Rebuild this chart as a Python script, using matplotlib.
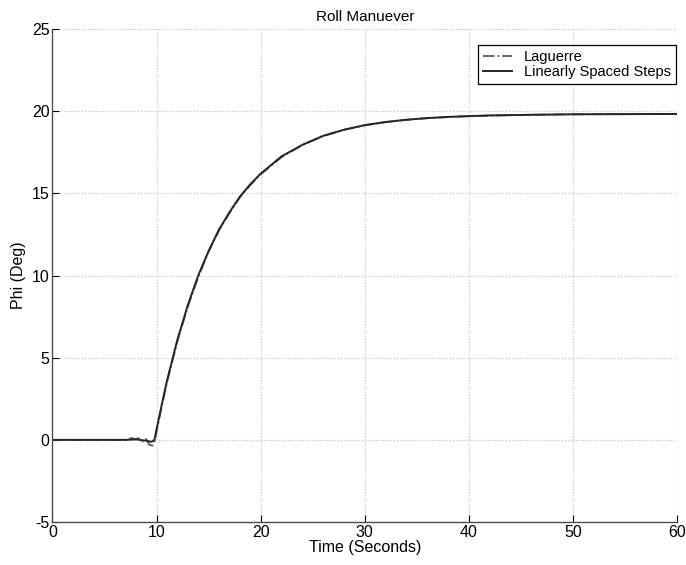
import matplotlib

matplotlib.use("Agg")
import matplotlib.pyplot as plt

# Linearly spaced steps response (deg) vs time (s)
time_steps = [0, 5, 7, 8, 9, 9.5, 9.8, 10, 10.5, 11, 11.6, 12, 13, 14, 15,
              16, 17, 18, 19, 20, 22, 24, 26, 28, 30, 32, 34, 36, 38, 40,
              42, 45, 50, 55, 60]
phi_steps = [0, 0, 0, 0.03, -0.05, -0.12, 0.0, 0.65, 2.15, 3.6, 5.1, 6.1,
             8.2, 10.0, 11.5, 12.8, 13.85, 14.8, 15.55, 16.2, 17.25, 17.95,
             18.5, 18.87, 19.15, 19.34, 19.48, 19.58, 19.65, 19.7, 19.74,
             19.77, 19.81, 19.82, 19.83]

# Laguerre response (deg) vs time (s)
time_lag = [0, 5, 7.3, 7.6, 7.9, 8.3, 8.7, 9.0, 9.3, 9.6, 9.8, 10, 10.5, 11,
            11.6, 12, 13, 14, 15, 16, 17, 18, 19, 20, 22, 24, 26, 28, 30, 32,
            34, 36, 38, 40, 42, 45, 50, 55, 60]
phi_lag = [0, 0, 0, 0.12, 0.05, 0.1, -0.1, 0.05, -0.3, -0.35, -0.1, 0.5,
           2.05, 3.5, 5.0, 6.0, 8.1, 9.9, 11.45, 12.75, 13.8, 14.75, 15.5,
           16.15, 17.2, 17.93, 18.48, 18.86, 19.14, 19.33, 19.47, 19.57,
           19.64, 19.69, 19.73, 19.77, 19.81, 19.82, 19.83]

x_ticks = [0, 10, 20, 30, 40, 50, 60]
y_ticks = [-5, 0, 5, 10, 15, 20, 25]

plt.rcParams["font.family"] = ["Liberation Sans", "DejaVu Sans"]
plt.rcParams["font.size"] = 11
plt.rcParams["axes.unicode_minus"] = False

fig = plt.figure(figsize=(6.86, 5.65), dpi=100)
ax = fig.add_axes([0.0765, 0.076, 0.9105, 0.8727])

ax.plot(time_lag, phi_lag, color="0.35", linestyle="-.", linewidth=1.3,
        label="Laguerre")
ax.plot(time_steps, phi_steps, color="0.15", linestyle="-", linewidth=1.4,
        label="Linearly Spaced Steps")

ax.set_xlim(0, 60)
ax.set_ylim(-5, 25)
ax.set_xticks(x_ticks)
ax.set_yticks(y_ticks)
ax.grid(True, linestyle=":", color="0.75", linewidth=0.8)
ax.tick_params(direction="in", length=5, width=0.8, pad=2, labelsize=11.5)
for side in ("top", "right"):
    ax.spines[side].set_visible(False)
for side in ("left", "bottom"):
    ax.spines[side].set_color("0.3")
    ax.spines[side].set_linewidth(1.0)

ax.set_title("Roll Manuever", fontsize=11, pad=6)
ax.set_xlabel("Time (Seconds)", fontsize=11.5, labelpad=0)
ax.set_ylabel("Phi (Deg)", fontsize=11.5, labelpad=4)

leg = ax.legend(loc="upper right", bbox_to_anchor=(683 / 686, 1 - 38 / 565),
                bbox_transform=fig.transFigure,
                fancybox=False, framealpha=1, edgecolor="black",
                borderpad=0.35, handlelength=2.0, labelspacing=0.05,
                fontsize=10.5)
leg.get_frame().set_linewidth(0.9)

fig.savefig("out.png", dpi=100)
